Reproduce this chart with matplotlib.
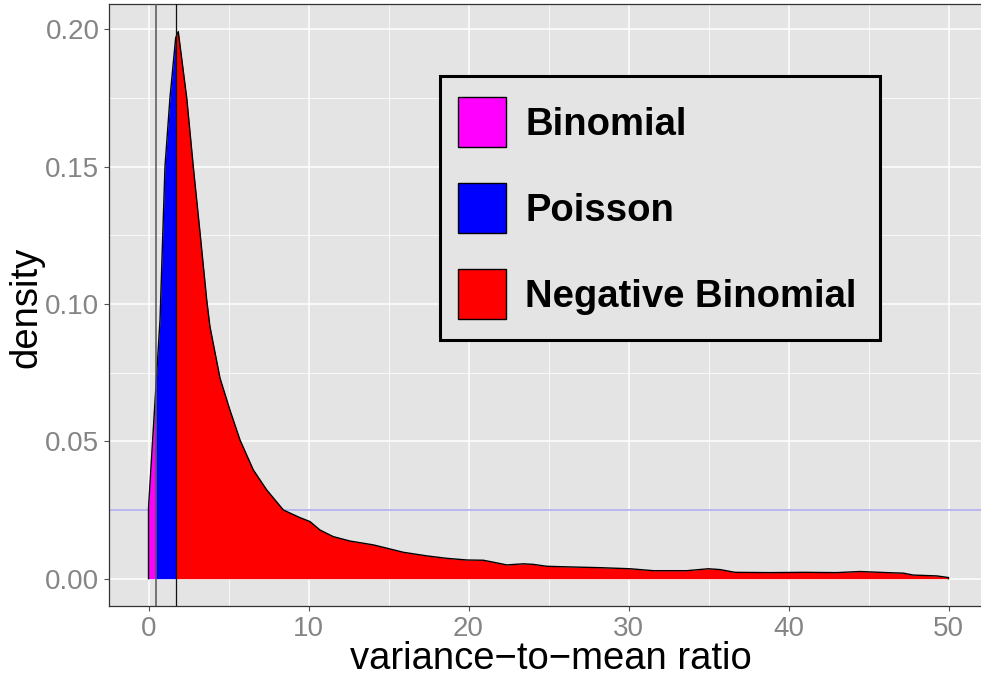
#imports
import numpy as np
import matplotlib
matplotlib.use("Agg")
import matplotlib.pyplot as plt
from matplotlib.patches import Rectangle

# density curve (variance-to-mean ratio vs density)
ratio = [0.0, 0.0, 0.45, 0.72, 1.03, 1.34, 1.70, 1.86, 2.39, 2.80, 3.22, 3.64, 3.84,
         4.47, 5.09, 5.72, 6.55, 7.39, 8.43, 9.47, 10.09, 10.72, 11.55, 12.59, 14.05,
         14.89, 15.93, 17.39, 18.64, 19.89, 20.93, 21.55, 22.39, 23.43, 24.05, 24.89,
         26.14, 28.2, 30.1, 31.55, 33.64, 34.99, 35.72, 36.66, 38.84, 40.93, 43.01,
         44.47, 46.14, 47.18, 47.8, 49.26, 50.0, 50.0]
density = [0.0, 0.0257, 0.0687, 0.0942, 0.150, 0.175, 0.197, 0.1992, 0.175, 0.150, 0.126,
           0.1014, 0.0918, 0.0730, 0.0614, 0.0505, 0.0396, 0.0323, 0.0250, 0.0222,
           0.0208, 0.0177, 0.0153, 0.0137, 0.0123, 0.0111, 0.0096, 0.0083, 0.0074,
           0.0068, 0.0067, 0.0060, 0.0050, 0.0054, 0.0052, 0.0045, 0.0043, 0.0040,
           0.0036, 0.0029, 0.0029, 0.0036, 0.0033, 0.0023, 0.0022, 0.0023, 0.0022,
           0.0026, 0.0022, 0.0020, 0.0013, 0.0010, 0.0004, 0.0]

# cut points between the three regimes
cuts = [0.45, 1.70]
labels = ['Binomial', 'Poisson', 'Negative Binomial']
colors = ['#ff00ff', '#0000ff', '#ff0000']
ref_level = 0.025

W, H = 981, 677
fig = plt.figure(figsize=(W / 100, H / 100), dpi=100)
plt.rcParams['font.family'] = ['Liberation Sans', 'DejaVu Sans']

# panel placement in pixels (right edge runs off the image like the reference)
x0, x1 = -2.5, 52.5
y0, y1 = -0.00996, 0.2092
left_px, right_px = 108.5, 988.5
top_px, bot_px = 4.2, 606.0
ax = fig.add_axes([left_px / W, 1 - bot_px / H, (right_px - left_px) / W, (bot_px - top_px) / H])
ax.set_xlim(x0, x1)
ax.set_ylim(y0, y1)
ax.set_facecolor('#e4e4e4')

# grid
ax.set_xticks([0, 10, 20, 30, 40, 50])
ax.set_xticks([5, 15, 25, 35, 45], minor=True)
ax.set_yticks([0, 0.05, 0.10, 0.15, 0.20])
ax.set_yticks([0.025, 0.075, 0.125, 0.175], minor=True)
ax.set_yticklabels(['0.00', '0.05', '0.10', '0.15', '0.20'])
ax.grid(which='major', color='white', lw=1.1)
ax.grid(which='minor', color='white', lw=0.55)
ax.set_axisbelow(True)
ax.tick_params(which='minor', length=0)
ax.tick_params(which='major', length=3.5, width=0.8, color='#555555',
               labelcolor='#858585', labelsize=20, pad=3)
ax.tick_params(axis='x', pad=3.5)

for s in ['left', 'top', 'bottom']:
    ax.spines[s].set_color('#333333')
    ax.spines[s].set_linewidth(0.9)
ax.spines['right'].set_visible(False)

# split the density into the three regions
r = np.array(ratio)
d = np.array(density)
segs = [(r <= cuts[0]), (r >= cuts[0]) & (r <= cuts[1]), (r >= cuts[1])]
for m, c in zip(segs, colors):
    ax.fill_between(r[m], 0, d[m], color=c, lw=0, zorder=2)
ax.plot(r, d, color='black', lw=1.0, zorder=3)

ax.axhline(ref_level, color='#b4b4f2', lw=1.3, zorder=1.5)
ax.axvline(cuts[0], color='#555555', lw=1.1, zorder=4)
ax.axvline(cuts[1], color='#111111', lw=0.9, zorder=4)

def px(x, y):
    return x / W, 1 - y / H

# axis titles placed by pixel so they sit where the reference has them
tx, ty = px(551, 669)
fig.text(tx, ty, 'variance\u2212to\u2212mean ratio', fontsize=27.5, ha='center', va='baseline')
tx, ty = px(26, 307)
fig.text(tx, ty, 'density', fontsize=27.5, ha='center', va='center', rotation=90)

# legend drawn by hand inside the panel
bx, by = px(440, 340)
fig.patches.append(Rectangle((bx, by), 440 / W, 264 / H, transform=fig.transFigure,
                             facecolor='#e4e4e4', edgecolor='black', lw=2.2, zorder=5))
for i, (lab, c) in enumerate(zip(labels, colors)):
    yc = 121.7 + 86 * i
    kx, ky = px(457.5, yc + 25)
    fig.patches.append(Rectangle((kx, ky), 48.5 / W, 50 / H, transform=fig.transFigure,
                                 facecolor=c, edgecolor='black', lw=1.0, zorder=6))
    tx, ty = px(525, yc + 3)
    fig.text(tx, ty, lab, fontsize=27.5, fontweight='bold', va='center', ha='left', zorder=7)

fig.savefig('out.png', dpi=100)
